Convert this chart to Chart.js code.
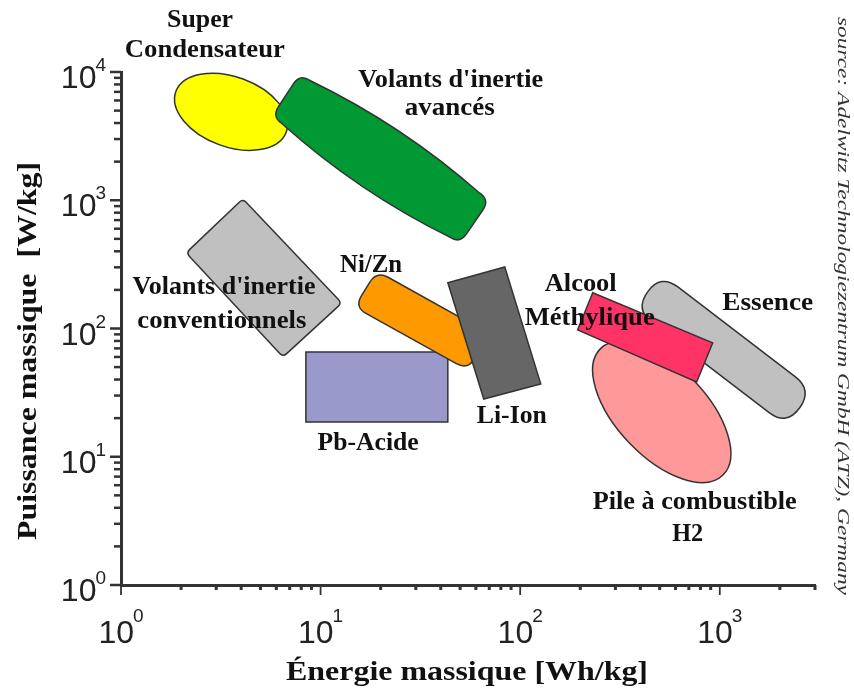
<!DOCTYPE html>
<html>
<head>
<meta charset="utf-8">
<script src="https://cdn.jsdelivr.net/npm/chart.js@4.4.0/dist/chart.umd.min.js"></script>
<style>
  html, body { margin: 0; padding: 0; background: #fff; }
  #wrap { width: 854px; height: 690px; }
</style>
</head>
<body>
<div id="wrap"><canvas id="ragone"></canvas></div>
<script>
// Ragone plot : energie massique (Wh/kg) vs puissance massique (W/kg), log/log

const xDecades = [1, 10, 100, 1000];
const yDecades = [1, 10, 100, 1000, 10000];
const xRange = [1, 3000];
const yRange = [1, 10000];

// regions, corners as [Wh/kg, W/kg]
const pbAcide = [[8.44, 65.7], [43.4, 65.7], [43.4, 18.7], [8.44, 18.7]];
// ellipses : centre, end of major axis, end of minor axis
const superCondensateur = [[3.56, 4895], [6.73, 3404], [4.08, 8836]];
const volantsAvances = [[7.88, 9680], [70.4, 1007], [49.8, 457], [5.70, 4477]];
const volantsConventionnels = [[4.08, 1026], [12.78, 158], [6.48, 60.0], [2.12, 389]];
const niZn = [[19.1, 281], [70.4, 90.8], [54.6, 47.5], [14.8, 147]];
const liIon = [[43.4, 227], [83.7, 302], [126.8, 37.0], [65.7, 28.2]];
const essence = [[506, 267], [2918, 33.2], [2163, 17.4], [375, 140]];
const pileH2 = [[512, 22.4], [1035, 7.17], [743, 39.2]];
const alcoolMethylique = [[231, 190], [921, 77.2], [766, 38.3], [194, 97.5]];

// text labels: text, anchor (Wh/kg, W/kg), width in px
const labels = [
  ['Super', 2.49, 25530, 66],
  ['Condensateur', 2.63, 14900, 160],
  ["Volants d'inertie", 44.9, 8690, 185],
  ['avancés', 44.4, 5260, 90],
  ['Ni/Zn', 17.9, 313, 62],
  ['Pb-Acide', 17.3, 12.8, 101],
  ['Li-Ion', 90.8, 20.8, 70],
  ['Alcool', 201, 223, 72],
  ['Méthylique', 223, 121, 130],
  ['Essence', 1738, 158, 91],
  ['Pile à combustible', 749, 4.44, 204],
  ['H2', 691, 2.50, 31],
  ["Volants d'inertie", 3.28, 211, 183],
  ['conventionnels', 3.20, 113, 169]
];

const regions = [
  { name: 'Pb-Acide', pts: pbAcide, shape: 'poly', color: '#9999cc', r: 0 },
  { name: 'Super Condensateur', pts: superCondensateur, shape: 'ellipse', color: '#ffff00' },
  { name: "Volants d'inertie avancés", pts: volantsAvances, shape: 'poly', color: '#009933', r: 12, bulge: 7 },
  { name: "Volants d'inertie conventionnels", pts: volantsConventionnels, shape: 'poly', color: '#c0c0c0', r: 5 },
  { name: 'Ni/Zn', pts: niZn, shape: 'poly', color: '#ff9900', r: 13 },
  { name: 'Li-Ion', pts: liIon, shape: 'poly', color: '#666666', r: 0 },
  { name: 'Essence', pts: essence, shape: 'poly', color: '#c0c0c0', r: 22 },
  { name: 'Pile à combustible H2', pts: pileH2, shape: 'ellipse', color: '#ff9999' },
  { name: 'Alcool Méthylique', pts: alcoolMethylique, shape: 'poly', color: '#ff3366', r: 0 }
];

const ink = '#333333';
const serif = '"Liberation Serif", "Times New Roman", serif';

function fitText(ctx, str, x, y, w) {
  const m = ctx.measureText(str).width;
  ctx.save();
  ctx.translate(x, y);
  ctx.scale(w / m, 1);
  ctx.fillText(str, 0, 0);
  ctx.restore();
}

// rounded polygon, long edges may bow outward a little
function roundPoly(ctx, p, r, bulge) {
  const n = p.length;
  const cx = p.reduce((s, q) => s + q.x, 0) / n;
  const cy = p.reduce((s, q) => s + q.y, 0) / n;
  const pt = (a, b, d) => {
    const dx = b.x - a.x, dy = b.y - a.y, L = Math.hypot(dx, dy);
    return { x: a.x + dx * d / L, y: a.y + dy * d / L };
  };
  ctx.beginPath();
  for (let i = 0; i < n; i++) {
    const a = p[i], b = p[(i + 1) % n], c = p[(i + 2) % n];
    const s = pt(a, b, r), e = pt(b, a, r);
    if (i === 0) ctx.moveTo(s.x, s.y);
    const L = Math.hypot(b.x - a.x, b.y - a.y);
    if (bulge && L > 120) {
      const mx = (s.x + e.x) / 2, my = (s.y + e.y) / 2;
      let nx = -(b.y - a.y) / L, ny = (b.x - a.x) / L;
      if ((mx - cx) * nx + (my - cy) * ny < 0) { nx = -nx; ny = -ny; }
      ctx.quadraticCurveTo(mx + nx * bulge * 2, my + ny * bulge * 2, e.x, e.y);
    } else {
      ctx.lineTo(e.x, e.y);
    }
    const s2 = pt(b, c, r);
    if (r > 0) ctx.quadraticCurveTo(b.x, b.y, s2.x, s2.y);
  }
  ctx.closePath();
}

const regionsPlugin = {
  id: 'regions',
  afterDatasetsDraw(chart) {
    const { ctx, scales: { x, y } } = chart;
    chart.data.datasets.forEach(ds => {
      const p = ds.data.map(d => ({ x: x.getPixelForValue(d.x), y: y.getPixelForValue(d.y) }));
      ctx.save();
      if (ds.shape === 'ellipse') {
        const [c, a, b] = p;
        ctx.beginPath();
        ctx.ellipse(c.x, c.y, Math.hypot(a.x - c.x, a.y - c.y), Math.hypot(b.x - c.x, b.y - c.y),
          Math.atan2(a.y - c.y, a.x - c.x), 0, Math.PI * 2);
      } else {
        roundPoly(ctx, p, ds.radius, ds.bulge);
      }
      ctx.fillStyle = ds.backgroundColor;
      ctx.fill();
      ctx.lineWidth = 1.5;
      ctx.strokeStyle = ink;
      ctx.stroke();
      ctx.restore();
    });

    ctx.save();
    ctx.fillStyle = '#111';
    ctx.font = 'bold 26px ' + serif;
    ctx.textAlign = 'center';
    ctx.textBaseline = 'middle';
    labels.forEach(l => {
      fitText(ctx, l[0], x.getPixelForValue(l[1]), y.getPixelForValue(l[2]), l[3]);
    });
    ctx.restore();
  },
  afterDraw(chart) {
    const { ctx, scales: { x, y } } = chart;
    ctx.save();
    ctx.fillStyle = ink;
    // y ticks
    yDecades.forEach(d => {
      for (let k = 1; k <= 9; k++) {
        const v = d * k;
        if (v > yRange[1]) break;
        const py = y.getPixelForValue(v);
        const len = k === 1 ? 11 : 7;
        ctx.fillRect(y.right - len, py - 1.25, len, 2.5);
      }
    });
    // x ticks
    xDecades.forEach(d => {
      for (let k = 1; k <= 9; k++) {
        const v = d * k;
        if (v > xRange[1] + 1e-6) break;
        const px = x.getPixelForValue(v);
        if (k === 1) ctx.fillRect(px - 0.9, x.top, 1.8, 10);
        else ctx.fillRect(px - 1.5, x.top, 3, 5);
      }
    });

    // tick labels 10^n
    ctx.fillStyle = '#222';
    const base = '32px "Liberation Sans", Arial, sans-serif';
    const sup = '19px "Liberation Sans", Arial, sans-serif';
    ctx.textBaseline = 'alphabetic';
    yDecades.forEach(d => {
      const py = y.getPixelForValue(d);
      const e = String(Math.round(Math.log10(d)));
      ctx.font = sup;
      const we = ctx.measureText(e).width;
      ctx.textAlign = 'right';
      ctx.fillText(e, 106, py - 1);
      ctx.font = base;
      ctx.fillText('10', 106 - we + 1, py + 16);
    });
    xDecades.forEach(d => {
      const px = x.getPixelForValue(d);
      const e = String(Math.round(Math.log10(d)));
      ctx.font = base;
      const wb = ctx.measureText('10').width;
      ctx.font = sup;
      const we = ctx.measureText(e).width;
      const left = px - (wb + we - 1) / 2;
      ctx.textAlign = 'left';
      ctx.font = base;
      ctx.fillText('10', left, 643);
      ctx.font = sup;
      ctx.fillText(e, left + wb - 1, 622);
    });

    // axis titles
    ctx.fillStyle = '#111';
    ctx.font = 'bold 27px ' + serif;
    ctx.textAlign = 'center';
    ctx.textBaseline = 'middle';
    fitText(ctx, 'Énergie massique [Wh/kg]', 467, 673, 362);
    ctx.save();
    ctx.translate(29, 351);
    ctx.rotate(-Math.PI / 2);
    fitText(ctx, 'Puissance massique  [W/kg]', 0, 0, 378);
    ctx.restore();

    // source
    ctx.fillStyle = '#333';
    ctx.font = 'italic 17px ' + serif;
    ctx.save();
    ctx.translate(842, 306);
    ctx.rotate(Math.PI / 2);
    fitText(ctx, 'source: Adelwitz Technologiezentrum GmbH (ATZ), Germany', 0, 0, 578);
    ctx.restore();
    ctx.restore();
  }
};

new Chart(document.getElementById('ragone'), {
  type: 'scatter',
  data: {
    datasets: regions.map(r => ({
      label: r.name,
      data: r.pts.map(q => ({ x: q[0], y: q[1] })),
      shape: r.shape,
      radius: r.r || 0,
      bulge: r.bulge || 0,
      backgroundColor: r.color,
      pointRadius: 0,
      showLine: false
    }))
  },
  options: {
    responsive: true,
    maintainAspectRatio: false,
    animation: false,
    layout: { padding: { top: 72, right: 39, left: 0, bottom: 0 } },
    plugins: { legend: { display: false }, tooltip: { enabled: false } },
    scales: {
      x: {
        type: 'logarithmic',
        min: xRange[0],
        max: xRange[1],
        grid: { display: false },
        border: { display: true, width: 3, color: ink },
        ticks: { display: false },
        afterFit: s => { s.height = 105; }
      },
      y: {
        type: 'logarithmic',
        min: yRange[0],
        max: yRange[1],
        grid: { display: false },
        border: { display: true, width: 3, color: ink },
        ticks: { display: false },
        afterFit: s => { s.width = 121; }
      }
    }
  },
  plugins: [regionsPlugin]
});
</script>
</body>
</html>
